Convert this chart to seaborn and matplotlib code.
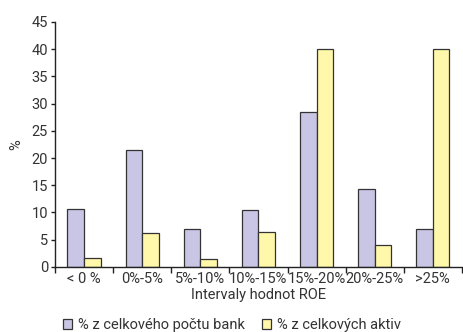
import pandas as pd
import seaborn as sns
import matplotlib.pyplot as plt
import numpy as np

# ROE intervals and shares (%)
categories = ["< 0 %", "0%-5%", "5%-10%", "10%-15%", "15%-20%", "20%-25%", ">25%"]
banks_share = [10.6, 21.4, 7.0, 10.5, 28.5, 14.4, 7.0]
assets_share = [1.7, 6.2, 1.4, 6.4, 40.0, 4.0, 40.0]
series_names = ["% z celkového počtu bank", "% z celkových aktiv"]
colors = ["#c8c6e4", "#fff7aa"]

df = pd.DataFrame({
    "interval": categories * 2,
    "value": banks_share + assets_share,
    "series": [series_names[0]] * len(categories) + [series_names[1]] * len(categories),
})

sns.set_style("white")
plt.rcParams["font.family"] = ["Roboto", "DejaVu Sans"]
text_color = "#333333"
fs = 10.5

fig = plt.figure(figsize=(4.64, 3.32), dpi=100)
ax = fig.add_axes([0.1185, 0.196, 0.877, 0.738])

sns.barplot(data=df, x="interval", y="value", hue="series", order=categories,
            hue_order=series_names, palette=colors, saturation=1, width=0.57,
            edgecolor="#333333", linewidth=0.9, ax=ax, legend=True)

ax.set_xlim(-0.5, len(categories) - 0.5)
ax.set_ylim(0, 45)
ax.set_yticks(np.arange(0, 46, 5))

# tick marks on group boundaries, labels at centres
ax.set_xticks(np.arange(-0.5, len(categories), 1.0))
ax.set_xticklabels([])
ax.set_xticks(np.arange(len(categories)), minor=True)
ax.set_xticklabels(categories, minor=True)
ax.tick_params(axis="x", which="major", length=4, width=1, color="#222222", direction="out", bottom=True)
ax.tick_params(axis="x", which="minor", length=0, pad=4, labelsize=fs, labelcolor=text_color)
ax.tick_params(axis="y", length=3, width=1, color="#222222", direction="out", left=True,
               labelsize=fs, labelcolor=text_color, pad=2)

for side in ["top", "right"]:
    ax.spines[side].set_visible(False)
for side in ["left", "bottom"]:
    ax.spines[side].set_color("#222222")
    ax.spines[side].set_linewidth(1)

ax.set_xlabel("Intervaly hodnot ROE", fontsize=fs, color=text_color, labelpad=1)
ax.set_ylabel("%", fontsize=fs, color=text_color, labelpad=6)

handles, labels = ax.get_legend_handles_labels()
ax.legend_.remove()
fig.legend(handles, labels, loc="lower center", bbox_to_anchor=(0.5, -0.04), ncol=2,
           frameon=False, fontsize=fs, labelcolor=text_color, handlelength=0.6,
           handleheight=0.6, handletextpad=0.4, columnspacing=1.2)

fig.savefig("out.png", dpi=100)
